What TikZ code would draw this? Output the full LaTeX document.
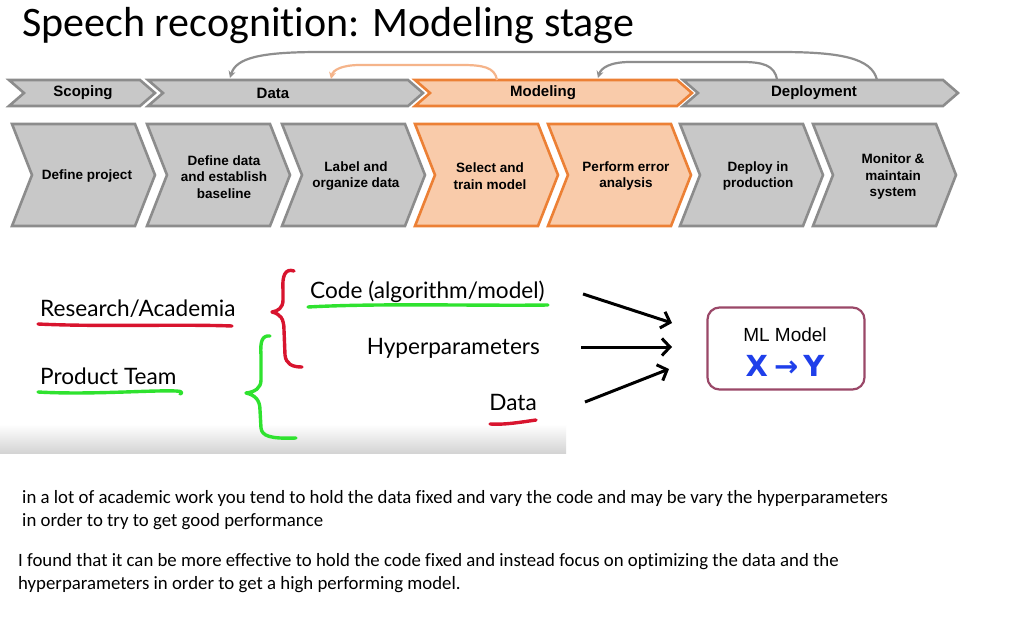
\documentclass[tikz,border=0pt]{standalone}
\usepackage{fontspec}
\setmainfont{Liberation Sans}
\newfontfamily\titlefont[RawFeature={-liga;-clig;-calt;-dlig}]{Carlito}
\newfontfamily\slidefont{Lato}
\newfontfamily\notefont[RawFeature={-liga;-clig;-calt;-dlig}]{Carlito}
\newfontfamily\penfont{DejaVu Sans}
\usetikzlibrary{arrows.meta}

\definecolor{chevgray}{HTML}{C8C8C8}
\definecolor{chevgrayline}{HTML}{8C8C8C}
\definecolor{chevorange}{HTML}{F9CBAA}
\definecolor{chevorangeline}{HTML}{EC8035}
\definecolor{looporange}{HTML}{F5B48A}
\definecolor{loopgray}{HTML}{8E8E8E}
\definecolor{penred}{HTML}{D8142E}
\definecolor{pengreen}{HTML}{2FE22F}
\definecolor{boxline}{HTML}{9A4868}
\definecolor{penblue}{HTML}{1F3FEA}

% chevron: #1 left x, #2 top y, #3 width, #4 height, #5 point depth, #6 style
\newcommand\chevshape[6]{%
  \path[#6] (#1,#2) -- ++({#3-#5},0) -- ++(#5,{#4/2}) -- ++({-#5},{#4/2})
    -- ++({#5-#3},0) -- ++(#5,{-#4/2}) -- cycle;}

\tikzset{
  graychev/.style={fill=chevgray,draw=chevgrayline,line width=2.6pt,line join=miter},
  orangechev/.style={fill=chevorange,draw=chevorangeline,line width=2.6pt,line join=miter},
  phaselabel/.style={font=\fontsize{15}{17}\selectfont\bfseries,inner sep=0pt},
  steplabel/.style={font=\fontsize{13.5}{16.5}\selectfont\bfseries,align=center,inner sep=0pt},
  loopline/.style={line width=2.2pt,-{Stealth[length=7pt,width=7pt]}},
  pen/.style={line width=3.4pt,line cap=round,line join=round},
  slidetext/.style={font=\slidefont\fontsize{22.6}{26}\selectfont,inner sep=0pt},
  feed/.style={line width=3pt,-{Straight Barb[length=8pt,width=17pt,line width=3pt]}},
  notetext/.style={font=\notefont\fontsize{18.8}{22}\selectfont,inner sep=0pt,anchor=base west},
}

\begin{document}
\begin{tikzpicture}[x=1pt,y=-1pt]
\useasboundingbox[fill=white] (0,0) rectangle (1009,618);

% title
\node[font=\titlefont\fontsize{42}{48}\selectfont,inner sep=0pt,anchor=base west] (title) at (22,37) {Speech recognition: Modeling stage};

% phase bar
\chevshape{9}{80}{146}{26}{15}{graychev}
\chevshape{148}{80}{275}{26}{15}{graychev}
\chevshape{415}{80}{277}{26}{15}{orangechev}
\chevshape{683}{80}{275}{26}{15}{graychev}
\node[phaselabel] (scoping) at (83,93) {Scoping};
\node[phaselabel] (data) at (273,93) {Data};
\node[phaselabel] (modeling) at (543,93) {Modeling};
\node[phaselabel] (deployment) at (814,93) {Deployment};

% feedback loops above the phase bar
\coordinate (bigS) at (877,80);
\coordinate (bigE) at (230,78);
\coordinate (orS) at (497,80);
\coordinate (orE) at (331,79);
\coordinate (smS) at (777,80);
\coordinate (smE) at (598,78);
\draw[loopline,loopgray] (bigS) .. controls (872,58) and (840,52) .. (780,52) -- (320,52)
  .. controls (260,52) and (236,58) .. (bigE);
\draw[loopline,looporange] (orS) .. controls (495,67) and (482,65) .. (462,65) -- (360,65)
  .. controls (342,65) and (333,70) .. (orE);
\draw[loopline,loopgray] (smS) .. controls (775,65) and (762,62) .. (742,62) -- (630,62)
  .. controls (610,62) and (601,68) .. (smE);

% step chevrons
\chevshape{12}{124}{143}{102}{20}{graychev}
\chevshape{147}{124}{143}{102}{20}{graychev}
\chevshape{282}{124}{143}{102}{20}{graychev}
\chevshape{415}{124}{143}{102}{20}{orangechev}
\chevshape{548}{124}{143}{102}{20}{orangechev}
\chevshape{680}{124}{143}{102}{20}{graychev}
\chevshape{813}{124}{143}{102}{20}{graychev}
\node[steplabel] (s1) at (87,176) {Define project};
\node[steplabel] (s2) at (224,177) {Define data\\and establish\\baseline};
\node[steplabel] (s3) at (356,176) {Label and\\organize data};
\node[steplabel] (s4) at (490,176) {Select and\\train model};
\node[steplabel] (s5) at (626,176) {Perform error\\analysis};
\node[steplabel] (s6) at (758,176) {Deploy in\\production};
\node[steplabel] (s7) at (893,177) {Monitor \&\\maintain\\system};

% lower slide panel shadow
\shade[top color=white,bottom color=black!17] (0,424) rectangle (566,453);

% groups and ingredients
\node[slidetext,anchor=base west] (research) at (40,316) {Research/Academia};
\node[slidetext,anchor=base west] (product) at (40,384) {Product Team};
\node[slidetext,anchor=base west] (code) at (310,298) {Code (algorithm/model)};
\node[slidetext,anchor=base east] (hyper) at (540,354) {Hyperparameters};
\node[slidetext,anchor=base east] (datain) at (537,410) {Data};

% hand-drawn marks
\draw[pen,penred] (38,324) .. controls (100,327) and (180,324) .. (232,326);
\draw[pen,pengreen] (38,392) .. controls (90,395) and (150,390) .. (176,391) .. controls (182,391) and (183,393) .. (180,394);
\draw[pen,pengreen] (308,307) .. controls (380,303) and (480,306) .. (548,305);
\draw[pen,penred] (490,424) .. controls (505,425) and (522,422) .. (536,420);
\draw[pen,penred] (294,271) .. controls (285,268) and (282,276) .. (283,290) -- (283,300)
  .. controls (283,308) and (278,311) .. (272,312) .. controls (280,314) and (284,318) .. (284,330)
  -- (285,355) .. controls (286,364) and (292,367) .. (302,367);
\draw[pen,pengreen] (270,336) .. controls (262,335) and (260,342) .. (261,355) -- (261,380)
  .. controls (261,388) and (255,392) .. (246,393) .. controls (255,395) and (260,400) .. (260,410)
  -- (261,428) .. controls (262,436) and (270,439) .. (296,438);

% arrows into the model
\coordinate (a1s) at (583,294);
\coordinate (a1e) at (672,323);
\coordinate (a2s) at (581,347);
\coordinate (a2e) at (672,347);
\coordinate (a3s) at (585,402);
\coordinate (a3e) at (669,369);
\draw[feed] (a1s) -- (a1e);
\draw[feed] (a2s) -- (a2e);
\draw[feed] (a3s) -- (a3e);

% model box
\node[draw=boxline,line width=2.2pt,rounded corners=12pt,minimum width=157pt,minimum height=82pt,inner sep=0pt] (ml) at (786,348.5) {};
\node[font=\fontsize{19}{22}\selectfont,inner sep=0pt] (mltitle) at (785,335) {ML Model};
\node[font=\penfont\bfseries\fontsize{29}{31}\selectfont,text=penblue,inner sep=0pt] (xy) at (785,366) {X\kern6pt→\kern5pt Y};

% notes
\node[notetext] (n1) at (22,503) {in a lot of academic work you tend to hold the data fixed and vary the code and may be vary the hyperparameters};
\node[notetext] (n2) at (22,526) {in order to try to get good performance};
\node[notetext] (n3) at (18,566) {I found that it can be more effective to hold the code fixed and instead focus on optimizing the data and the};
\node[notetext] (n4) at (18,589) {hyperparameters in order to get a high performing model.};
\end{tikzpicture}
\end{document}
